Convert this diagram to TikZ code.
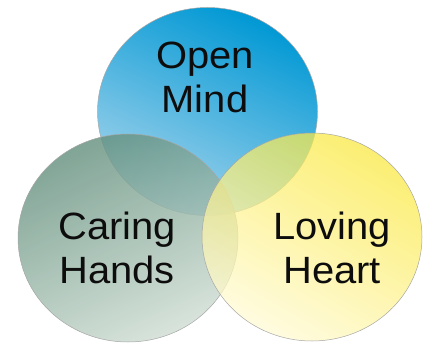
\documentclass[tikz,border=0pt]{standalone}
\usepackage{fontspec}
\setmainfont{Liberation Sans}
\usetikzlibrary{shapes.geometric}
\definecolor{mindDark}{RGB}{0,152,212}
\definecolor{mindLight}{RGB}{165,212,236}
\definecolor{handsDark}{RGB}{100,144,126}
\definecolor{handsLight}{RGB}{208,222,212}
\definecolor{heartDark}{RGB}{250,232,60}
\definecolor{heartLight}{RGB}{255,250,212}
\tikzstyle{ring}=[ellipse, draw=black!35, line width=0.5pt, inner sep=0pt,
  minimum width=220pt, minimum height=208pt]
\tikzstyle{word}=[align=center, inner sep=0pt, text=black!95,
  font=\fontsize{38}{44}\selectfont, xscale=1.05, transform shape]
\newcommand{\ring}{\node[ring]}
\newcommand{\word}{\node[word]}

\begin{document}
\begin{tikzpicture}[x=1pt, y=1pt]
\useasboundingbox (0,0) rectangle (425,343);
\ring[shade, top color=mindDark, bottom color=mindLight, shading angle=-25]
  (mind) at (207.5,231.5) {};
\ring[shade, top color=handsDark, bottom color=handsLight, shading angle=25,
  fill opacity=0.82] (hands) at (128,105) {};
\ring[shade, top color=heartDark, bottom color=heartLight, shading angle=-30,
  fill opacity=0.72] (heart) at (312,106) {};
\word (open) at (205,265.5) {Open\\Mind};
\word (caring) at (117,95) {Caring\\Hands};
\word (loving) at (332,95) {Loving\\Heart};
\end{tikzpicture}
\end{document}
